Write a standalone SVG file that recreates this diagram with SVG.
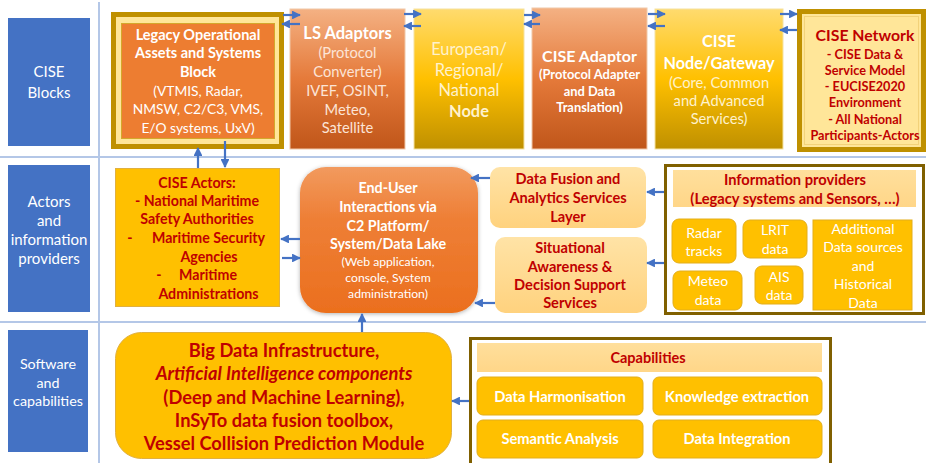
<svg xmlns="http://www.w3.org/2000/svg" width="926" height="463" viewBox="0 0 926 463">
<defs>
<linearGradient id="gOr" x1="0" y1="0" x2="0" y2="1"><stop offset="0" stop-color="#F4B183"/><stop offset="0.5" stop-color="#E57A3A"/><stop offset="1" stop-color="#C0561A"/></linearGradient>
<linearGradient id="gGd" x1="0" y1="0" x2="0" y2="1"><stop offset="0" stop-color="#FFDB6E"/><stop offset="0.5" stop-color="#FFC000"/><stop offset="1" stop-color="#BF9000"/></linearGradient>
<linearGradient id="gEU" x1="0" y1="0" x2="0" y2="1"><stop offset="0" stop-color="#F29A5E"/><stop offset="0.35" stop-color="#EE7F36"/><stop offset="1" stop-color="#EB6F1E"/></linearGradient>
<linearGradient id="gLt" x1="0" y1="0" x2="0" y2="1"><stop offset="0" stop-color="#FFE3A6"/><stop offset="1" stop-color="#FFD27E"/></linearGradient>
<linearGradient id="gHd" x1="0" y1="0" x2="0" y2="1"><stop offset="0" stop-color="#FFDF9C"/><stop offset="1" stop-color="#FFD688"/></linearGradient>
<filter id="sh" x="-10%" y="-10%" width="120%" height="120%"><feDropShadow dx="0" dy="1" stdDeviation="2" flood-color="#000" flood-opacity="0.3"/></filter>
<marker id="ah" viewBox="0 0 10 10" refX="9" refY="5" markerWidth="4" markerHeight="4" orient="auto" markerUnits="strokeWidth"><path d="M0,0 L10,5 L0,10 z" fill="#4472C4"/></marker>
</defs>
<style>
text{font-family:Lato,"Open Sans","Liberation Sans",sans-serif;text-anchor:middle}
.lbl{fill:#4472C4}
.lt{fill:#fff;font-size:15px}
.w{fill:#fff}
.wb{fill:#fff;font-weight:bold}
.cr{fill:#FFF2CC}
.pe{fill:#FCE4D6}
.r{fill:#C00000;font-weight:bold}
.sep{stroke:#B4C7E7;stroke-width:2}
.c line{stroke:#4472C4;stroke-width:2.2;marker-end:url(#ah)}
.sm{fill:#FFC000;stroke:#E3AE1A;stroke-width:1}
</style>
<rect width="926" height="463" fill="#fff"/>
<g id="separators">
<line class="sep" x1="99" y1="2" x2="99" y2="463"/>
<line class="sep" x1="0" y1="157" x2="926" y2="157"/>
<line class="sep" x1="0" y1="322" x2="926" y2="322"/>
</g>
<g id="lbl-cise"><rect class="lbl" x="8" y="18" width="82" height="128"/><text class="lt" x="49" y="77">CISE</text><text class="lt" x="49" y="98">Blocks</text></g>
<g id="lbl-actors"><rect class="lbl" x="8" y="165" width="82" height="147"/><text class="lt" x="49" y="207">Actors</text><text class="lt" x="49" y="226">and</text><text class="lt" x="49" y="245">information</text><text class="lt" x="49" y="264">providers</text></g>
<g id="lbl-software"><rect class="lbl" x="8" y="330" width="80" height="122"/><text class="lt" x="48" y="369" style="font-size:14.3px">Software</text><text class="lt" x="48" y="388" style="font-size:14.3px">and</text><text class="lt" x="48" y="406" style="font-size:14.3px">capabilities</text></g>

<g id="legacy">
<rect x="113.5" y="14.5" width="168" height="132" fill="#FFE699" stroke="#BF9000" stroke-width="5"/>
<rect x="121.5" y="23.5" width="153" height="115" fill="#ED7D31" stroke="#D4A72C" stroke-width="1"/>
<g style="font-size:14.5px"><text class="wb" x="198" y="40">Legacy Operational</text><text class="wb" x="198" y="58">Assets and Systems</text><text class="wb" x="198" y="77">Block</text></g>
<g style="font-size:13.8px"><text class="w" x="198" y="96">(VTMIS, Radar,</text><text class="w" x="198" y="114">NMSW, C2/C3, VMS,</text><text class="w" x="198" y="133">E/O systems, UxV)</text></g>
</g>
<g id="ls-adaptors">
<rect x="290" y="9" width="115" height="140" fill="url(#gOr)" stroke="#F0C8A8" stroke-width="1"/>
<text class="wb" x="347.5" y="39" style="font-size:16.5px">LS Adaptors</text>
<g style="font-size:14.7px"><text class="pe" x="347.5" y="58">(Protocol</text><text class="pe" x="347.5" y="77">Converter)</text><text class="pe" x="347.5" y="96">IVEF, OSINT,</text><text class="pe" x="347.5" y="115">Meteo,</text><text class="pe" x="347.5" y="133">Satellite</text></g>
</g>
<g id="european">
<rect x="414" y="9" width="110" height="140" fill="url(#gGd)" stroke="#F5E2A0" stroke-width="1"/>
<g style="font-size:16.4px"><text class="cr" x="469" y="55">European/</text><text class="cr" x="469" y="76">Regional/</text><text class="cr" x="469" y="96">National</text><text class="cr" x="469" y="117" style="font-weight:bold">Node</text></g>
</g>
<g id="cise-adaptor">
<rect x="532" y="8" width="115" height="141" fill="url(#gOr)" stroke="#F0C8A8" stroke-width="1"/>
<text class="wb" x="589.5" y="62" style="font-size:16px">CISE Adaptor</text>
<g style="font-size:12.9px"><text class="wb" x="589.5" y="79">(Protocol Adapter</text><text class="wb" x="589.5" y="96">and Data</text><text class="wb" x="589.5" y="112">Translation)</text></g>
</g>
<g id="cise-node">
<rect x="655" y="9" width="128" height="140" fill="url(#gGd)" stroke="#F5E2A0" stroke-width="1"/>
<g style="font-size:16.3px"><text class="wb" x="719" y="47">CISE</text><text class="wb" x="719" y="69">Node/Gateway</text></g>
<g style="font-size:14.7px"><text class="cr" x="719" y="88">(Core, Common</text><text class="cr" x="719" y="106">and Advanced</text><text class="cr" x="719" y="124">Services)</text></g>
</g>
<g id="cise-network">
<rect x="799.5" y="11.5" width="124" height="138" fill="#FFE699" stroke="#BF9000" stroke-width="5"/>
<rect x="804.5" y="16.5" width="114" height="128" fill="none" stroke="#F2D27A" stroke-width="1"/>
<text class="r" x="865" y="41" style="font-size:15.8px">CISE Network</text>
<g style="font-size:12.7px"><text class="r" x="865" y="59">- CISE Data &amp;</text><text class="r" x="865" y="75">Service Model</text><text class="r" x="865" y="91">- EUCISE2020</text><text class="r" x="865" y="107">Environment</text><text class="r" x="865" y="124">- All National</text><text class="r" x="865" y="140">Participants-Actors</text></g>
</g>

<g id="cise-actors">
<rect x="115.5" y="168.5" width="164" height="138" fill="#FFC000" stroke="#E0B040" stroke-width="1"/>
<g style="font-size:14.2px"><text class="r" x="197" y="188">CISE Actors:</text><text class="r" x="197" y="206">- National Maritime</text><text class="r" x="197" y="224">Safety Authorities</text>
<text class="r" x="130" y="243">-</text><text class="r" x="208.5" y="243">Maritime Security</text><text class="r" x="209" y="262">Agencies</text>
<text class="r" x="159" y="280">-</text><text class="r" x="208" y="280">Maritime</text><text class="r" x="208.5" y="299">Administrations</text></g>
</g>
<g id="end-user">
<rect x="300" y="167" width="178" height="146" rx="26" fill="url(#gEU)" filter="url(#sh)"/>
<g style="font-size:14.3px"><text class="wb" x="388" y="193">End-User</text><text class="wb" x="388" y="212">Interactions via</text><text class="wb" x="388" y="231">C2 Platform/</text><text class="wb" x="388" y="249">System/Data Lake</text></g>
<g style="font-size:12.2px"><text class="w" x="388" y="266">(Web application,</text><text class="w" x="388" y="282">console, System</text><text class="w" x="388" y="298">administration)</text></g>
</g>
<g id="data-fusion">
<rect x="490" y="167" width="156" height="61" rx="10" fill="url(#gLt)"/>
<g style="font-size:14.6px"><text class="r" x="568" y="184">Data Fusion and</text><text class="r" x="568" y="203">Analytics Services</text><text class="r" x="568" y="222">Layer</text></g>
</g>
<g id="situational">
<rect x="495" y="237" width="152" height="76" rx="10" fill="url(#gLt)"/>
<g style="font-size:14.6px"><text class="r" x="570" y="253">Situational</text><text class="r" x="570" y="272">Awareness &amp;</text><text class="r" x="570" y="290">Decision Support</text><text class="r" x="570" y="308">Services</text></g>
</g>
<g id="info-providers">
<rect x="665.5" y="165.5" width="258" height="148" fill="#fff" stroke="#806000" stroke-width="3"/>
<rect x="673" y="170" width="243" height="37" fill="url(#gHd)"/>
<g style="font-size:14.7px"><text class="r" x="795" y="185">Information providers</text><text class="r" x="795" y="204">(Legacy systems and Sensors, …)</text></g>
<g id="radar"><rect class="sm" x="672" y="219" width="64" height="44" rx="7"/><text class="w" x="704" y="238" style="font-size:14px">Radar</text><text class="w" x="704" y="256" style="font-size:14px">tracks</text></g>
<g id="lrit"><rect class="sm" x="743" y="220" width="64" height="38" rx="7"/><text class="w" x="775" y="235" style="font-size:14px">LRIT</text><text class="w" x="775" y="254" style="font-size:14px">data</text></g>
<g id="meteo"><rect class="sm" x="673" y="271" width="69" height="39" rx="7"/><text class="w" x="708" y="286" style="font-size:14px">Meteo</text><text class="w" x="708" y="305" style="font-size:14px">data</text></g>
<g id="ais"><rect class="sm" x="755" y="266" width="48" height="38" rx="7"/><text class="w" x="779" y="282" style="font-size:14px">AIS</text><text class="w" x="779" y="300" style="font-size:14px">data</text></g>
<g id="additional"><rect class="sm" x="813" y="220" width="99" height="90"/><g style="font-size:14px"><text class="w" x="863" y="234">Additional</text><text class="w" x="863" y="252">Data sources</text><text class="w" x="863" y="271">and</text><text class="w" x="863" y="289">Historical</text><text class="w" x="863" y="308">Data</text></g></g>
</g>

<g id="big-data">
<rect x="115.5" y="332.5" width="336" height="126" rx="26" fill="#FFC000" stroke="#E0B040" stroke-width="1"/>
<g style="font-size:18.3px"><text class="r" x="284" y="357">Big Data Infrastructure,</text><text class="r" x="284" y="380" style="font-style:italic">Artificial Intelligence components</text><text class="r" x="284" y="404">(Deep and Machine Learning),</text><text class="r" x="284" y="427">InSyTo data fusion toolbox,</text><text class="r" x="284" y="450">Vessel Collision Prediction Module</text></g>
</g>
<g id="capabilities">
<rect x="470.5" y="338.5" width="360" height="130" fill="#fff" stroke="#806000" stroke-width="3"/>
<rect x="477" y="343" width="345" height="29" fill="url(#gHd)"/>
<text class="r" x="648" y="363" style="font-size:14.5px">Capabilities</text>
<g style="font-size:14.7px">
<g id="cap-harm"><rect class="sm" x="477" y="377" width="166" height="38" rx="6"/><text class="wb" x="560" y="402">Data Harmonisation</text></g>
<g id="cap-know"><rect class="sm" x="653" y="377" width="169" height="38" rx="6"/><text class="wb" x="737" y="402">Knowledge extraction</text></g>
<g id="cap-sem"><rect class="sm" x="477" y="420" width="166" height="38" rx="6"/><text class="wb" x="560" y="444">Semantic Analysis</text></g>
<g id="cap-int"><rect class="sm" x="653" y="420" width="169" height="38" rx="6"/><text class="wb" x="737" y="444">Data Integration</text></g>
</g>
</g>

<g id="connectors" class="c">
<line x1="283" y1="15" x2="300" y2="15"/><line x1="300" y1="24" x2="282" y2="24"/>
<line x1="404" y1="14" x2="421" y2="14"/><line x1="421" y1="26" x2="404" y2="26"/>
<line x1="524" y1="15" x2="540" y2="15"/><line x1="540" y1="24" x2="524" y2="24"/>
<line x1="648" y1="14" x2="665" y2="14"/><line x1="665" y1="26" x2="648" y2="26"/>
<line x1="780" y1="14" x2="797" y2="14"/><line x1="797" y1="30" x2="780" y2="30"/>
<line x1="198" y1="168" x2="198" y2="148"/><line x1="225" y1="141" x2="225" y2="167"/>
<line x1="300" y1="239" x2="281" y2="239"/><line x1="282" y1="258" x2="300" y2="258"/>
<line x1="490" y1="178" x2="471" y2="178"/><line x1="495" y1="303" x2="475" y2="303"/>
<line x1="664" y1="192" x2="647" y2="192"/><line x1="664" y1="263" x2="647" y2="263"/>
<line x1="362" y1="332" x2="362" y2="314"/><line x1="469" y1="401" x2="452" y2="401"/>
</g>
</svg>
